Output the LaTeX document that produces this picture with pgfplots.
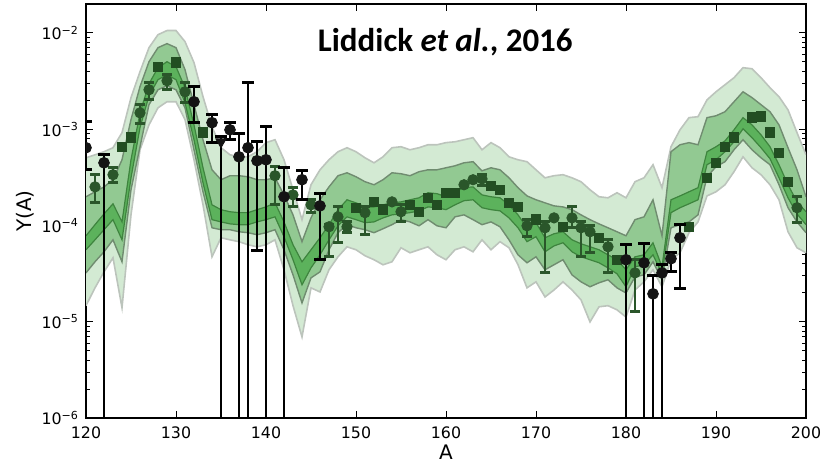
\documentclass[border=0pt]{standalone}
\usepackage{pgfplots}
\pgfplotsset{compat=1.18}
\usepgfplotslibrary{fillbetween}
\usepackage{pgfplotstable}
\usepackage{fontspec}
\setmainfont{DejaVu Sans}
\newfontfamily\titlefont{Carlito}

\definecolor{bandlight}{RGB}{211,234,211}
\definecolor{bandmid}{RGB}{146,201,146}
\definecolor{bandin}{RGB}{92,178,92}
\definecolor{edgelight}{RGB}{188,196,188}
\definecolor{edgemid}{RGB}{112,140,112}
\definecolor{edgein}{RGB}{62,132,62}
\definecolor{ptgreen}{RGB}{42,86,42}
\definecolor{ptsquare}{RGB}{34,78,34}

% model bands: outer (lt/lb), middle (mt/mb), inner (it/ib)
\pgfplotstableread{
A lt mt it ib mb lb
120 5.05e-4 1.99e-4 7.82e-5 5.60e-5 3.22e-5 1.47e-5
121 5.43e-4 2.24e-4 1.02e-4 7.10e-5 4.20e-5 2.25e-5
122 5.84e-4 2.52e-4 1.32e-4 9.04e-5 5.33e-5 3.30e-5
123 6.43e-4 2.99e-4 1.68e-4 1.15e-4 7.10e-5 4.62e-5
124 9.21e-4 4.82e-4 1.09e-4 7.10e-5 4.20e-5 1.40e-5
125 2.13e-3 1.26e-3 4.82e-4 3.13e-4 2.35e-4 1.29e-4
126 3.96e-3 2.77e-3 1.48e-3 1.04e-3 6.58e-4 6.12e-4
127 7.04e-3 5.03e-3 2.97e-3 2.23e-3 1.80e-3 1.11e-3
128 9.60e-3 7.04e-3 4.36e-3 3.27e-3 2.57e-3 1.67e-3
129 1.06e-2 7.75e-3 5.03e-3 3.69e-3 2.83e-3 1.93e-3
130 1.06e-2 7.04e-3 4.46e-3 3.27e-3 2.57e-3 1.93e-3
131 8.13e-3 4.16e-3 2.70e-3 1.89e-3 1.67e-3 1.26e-3
132 4.92e-3 1.80e-3 1.11e-3 7.78e-4 6.12e-4 4.82e-4
133 2.18e-3 7.78e-4 3.98e-4 2.78e-4 2.24e-4 1.64e-4
134 1.06e-3 3.79e-4 1.64e-4 1.15e-4 9.47e-5 4.73e-5
135 6.43e-4 2.99e-4 1.46e-4 1.09e-4 9.04e-5 7.46e-5
136 5.43e-4 3.29e-4 1.39e-4 1.04e-4 9.04e-5 7.10e-5
137 5.17e-4 3.29e-4 1.36e-4 1.02e-4 8.61e-5 6.79e-5
138 5.17e-4 3.21e-4 1.36e-4 1.02e-4 8.42e-5 6.31e-5
139 5.84e-4 2.99e-4 1.46e-4 1.09e-4 8.02e-5 6.01e-5
140 7.26e-4 2.99e-4 1.56e-4 1.15e-4 8.42e-5 6.31e-5
141 7.78e-4 3.13e-4 1.72e-4 1.23e-4 9.04e-5 7.10e-5
142 4.82e-4 2.08e-4 1.09e-4 7.65e-5 5.60e-5 3.47e-5
143 2.35e-4 1.29e-4 6.31e-5 4.41e-5 3.07e-5 1.47e-5
144 1.15e-4 6.79e-5 4.20e-5 2.42e-5 1.57e-5 6.96e-6
145 2.65e-4 1.20e-4 5.60e-5 3.63e-5 2.86e-5 2.25e-5
146 3.79e-4 1.85e-4 7.46e-5 4.96e-5 3.30e-5 2.04e-5
147 4.82e-4 2.52e-4 1.02e-4 7.10e-5 5.60e-5 3.47e-5
148 5.84e-4 3.29e-4 1.46e-4 9.93e-5 8.42e-5 4.73e-5
149 6.43e-4 3.53e-4 1.85e-4 1.23e-4 1.02e-4 6.01e-5
150 5.84e-4 3.21e-4 1.72e-4 1.15e-4 9.47e-5 5.60e-5
151 5.05e-4 2.85e-4 1.56e-4 1.07e-4 9.04e-5 4.85e-5
152 4.48e-4 2.65e-4 1.56e-4 1.09e-4 8.42e-5 4.41e-5
153 5.17e-4 2.99e-4 1.64e-4 1.20e-4 9.25e-5 3.91e-5
154 6.43e-4 3.53e-4 1.72e-4 1.29e-4 1.02e-4 4.20e-5
155 6.58e-4 3.45e-4 1.76e-4 1.32e-4 1.15e-4 5.87e-5
156 6.12e-4 3.29e-4 1.85e-4 1.36e-4 1.09e-4 5.21e-5
157 6.43e-4 3.62e-4 1.94e-4 1.42e-4 9.93e-5 5.60e-5
158 6.90e-4 3.79e-4 2.19e-4 1.56e-4 1.15e-4 6.01e-5
159 6.90e-4 3.79e-4 2.14e-4 1.53e-4 9.93e-5 4.96e-5
160 7.26e-4 3.98e-4 1.99e-4 1.46e-4 9.47e-5 4.41e-5
161 7.41e-4 4.17e-4 2.24e-4 1.64e-4 1.23e-4 5.60e-5
162 7.78e-4 4.48e-4 2.47e-4 1.81e-4 1.29e-4 6.01e-5
163 8.17e-4 4.60e-4 2.52e-4 1.85e-4 1.15e-4 5.33e-5
164 6.12e-4 3.70e-4 2.08e-4 1.53e-4 1.02e-4 7.10e-5
165 7.26e-4 3.98e-4 1.99e-4 1.46e-4 1.09e-4 5.60e-5
166 6.43e-4 3.79e-4 1.94e-4 1.42e-4 9.70e-5 6.79e-5
167 5.17e-4 3.13e-4 1.64e-4 1.20e-4 7.10e-5 5.87e-5
168 4.82e-4 2.47e-4 1.29e-4 9.47e-5 4.96e-5 3.91e-5
169 4.60e-4 2.03e-4 9.47e-5 6.79e-5 4.10e-5 2.25e-5
170 3.79e-4 1.85e-4 1.07e-4 7.65e-5 4.73e-5 2.60e-5
171 3.13e-4 1.72e-4 7.46e-5 5.33e-5 3.47e-5 1.81e-5
172 3.29e-4 1.60e-4 8.21e-5 6.14e-5 3.91e-5 2.14e-5
173 3.37e-4 1.56e-4 8.61e-5 6.62e-5 4.41e-5 2.60e-5
174 3.13e-4 1.46e-4 7.10e-5 5.33e-5 3.07e-5 2.14e-5
175 2.85e-4 1.29e-4 6.46e-5 4.73e-5 2.60e-5 1.69e-5
176 2.35e-4 1.15e-4 6.01e-5 4.41e-5 2.31e-5 9.96e-6
177 1.99e-4 1.04e-4 5.60e-5 4.10e-5 2.54e-5 1.43e-5
178 1.94e-4 9.47e-5 4.96e-5 3.63e-5 2.73e-5 1.47e-5
179 2.19e-4 8.61e-5 4.41e-5 3.15e-5 2.25e-5 1.33e-5
180 1.94e-4 7.82e-5 3.47e-5 2.31e-5 1.99e-5 1.12e-5
181 2.85e-4 1.15e-4 4.73e-5 3.72e-5 2.93e-5 2.14e-5
182 3.13e-4 1.23e-4 4.96e-5 3.91e-5 3.07e-5 2.60e-5
183 4.28e-4 1.85e-4 6.62e-5 4.96e-5 4.20e-5 3.47e-5
184 2.47e-4 7.82e-5 3.72e-5 3.15e-5 2.73e-5 2.31e-5
185 6.58e-4 5.84e-4 1.85e-4 1.36e-4 9.47e-5 4.41e-5
186 9.86e-4 6.90e-4 2.03e-4 1.53e-4 1.02e-4 5.21e-5
187 1.32e-3 7.26e-4 2.24e-4 1.68e-4 1.09e-4 8.42e-5
188 1.35e-3 6.90e-4 2.47e-4 1.85e-4 1.29e-4 1.09e-4
189 2.02e-3 1.32e-3 5.84e-4 4.28e-4 3.21e-4 2.03e-4
190 2.45e-3 1.38e-3 6.58e-4 4.82e-4 4.08e-4 2.24e-4
191 2.90e-3 1.52e-3 7.57e-4 5.84e-4 4.60e-4 2.65e-4
192 3.43e-3 1.93e-3 9.86e-4 7.41e-4 6.12e-4 3.62e-4
193 4.36e-3 2.45e-3 1.32e-3 1.01e-3 7.78e-4 5.17e-4
194 4.25e-3 2.13e-3 1.11e-3 8.17e-4 6.12e-4 3.98e-4
195 3.43e-3 1.80e-3 8.75e-4 6.43e-4 5.05e-4 3.37e-4
196 2.70e-3 1.52e-3 6.58e-4 4.94e-4 4.28e-4 2.65e-4
197 2.18e-3 1.11e-3 4.28e-4 3.13e-4 2.65e-4 1.85e-4
198 1.59e-3 6.43e-4 2.65e-4 1.94e-4 1.53e-4 8.61e-5
199 9.21e-4 3.79e-4 1.76e-4 1.32e-4 1.09e-4 5.87e-5
200 5.43e-4 1.99e-4 1.39e-4 1.02e-4 8.42e-5 5.21e-5
}\bands

% measured abundances (black)
\pgfplotstableread{
A y
120 6.43e-4
122 4.48e-4
132 1.93e-3
134 1.17e-3
136 9.86e-4
137 5.17e-4
138 6.43e-4
139 4.71e-4
140 4.82e-4
142 1.99e-4
144 2.99e-4
146 1.60e-4
180 4.41e-5
182 4.10e-5
183 1.95e-5
184 3.22e-5
185 4.52e-5
186 7.46e-5
}\expdata

% error bars of the measured points: lower and upper end, split by nan
\pgfplotstableread{
A v
120 3.79e-4
120 1.20e-3
120 nan
122 1e-8
122 5.43e-4
122 nan
132 1.17e-3
132 2.77e-3
132 nan
134 7.26e-4
134 1.41e-3
134 nan
135 1e-8
135 8.37e-4
135 nan
136 7.78e-4
136 1.17e-3
136 nan
137 1e-8
137 8.98e-4
137 nan
138 1e-8
138 3.04e-3
138 nan
139 5.46e-5
139 7.41e-4
139 nan
140 1e-8
140 1.06e-3
140 nan
142 1e-8
142 3.98e-4
142 nan
144 1.85e-4
144 3.70e-4
144 nan
146 4.41e-5
146 2.14e-4
146 nan
180 1e-8
180 6.31e-5
180 nan
182 1e-8
182 6.46e-5
182 nan
183 1e-8
183 3.00e-5
183 nan
184 1e-8
184 3.90e-5
184 nan
185 3.30e-5
185 5.21e-5
185 nan
186 2.20e-5
186 1.02e-4
}\expbars

% model points with uncertainties (green circles)
\pgfplotstableread{
A y
121 2.52e-4
123 3.37e-4
126 1.48e-3
127 2.57e-3
129 3.19e-3
131 2.45e-3
141 3.29e-4
143 2.08e-4
145 1.64e-4
147 9.70e-5
148 1.23e-4
149 9.70e-5
151 1.36e-4
154 1.76e-4
155 1.39e-4
162 2.65e-4
163 2.99e-4
164 3.05e-4
169 9.93e-5
171 9.47e-5
172 1.20e-4
174 1.20e-4
175 9.47e-5
176 8.61e-5
178 6.01e-5
181 3.22e-5
199 1.53e-4
}\gcirc

\pgfplotstableread{
A v
121 1.72e-4
121 3.37e-4
121 nan
123 2.78e-4
123 3.98e-4
123 nan
126 1.14e-3
126 1.80e-3
126 nan
127 2.02e-3
127 3.04e-3
127 nan
129 2.57e-3
129 3.69e-3
129 nan
131 1.89e-3
131 3.04e-3
131 nan
141 1.64e-4
141 4.08e-4
141 nan
143 1.56e-4
143 2.47e-4
143 nan
145 1.36e-4
145 1.85e-4
145 nan
147 4.73e-5
147 1.02e-4
147 nan
148 6.62e-5
148 1.56e-4
148 nan
149 8.42e-5
149 1.09e-4
149 nan
151 8.02e-5
151 1.56e-4
151 nan
155 1.09e-4
155 1.64e-4
155 nan
164 2.58e-4
164 3.37e-4
164 nan
169 7.65e-5
169 1.15e-4
169 nan
171 3.22e-5
171 1.09e-4
171 nan
174 9.47e-5
174 1.56e-4
174 nan
175 4.73e-5
175 1.09e-4
175 nan
176 5.21e-5
176 9.93e-5
176 nan
178 3.22e-5
178 7.10e-5
178 nan
181 1.27e-5
181 4.41e-5
181 nan
199 1.07e-4
199 1.99e-4
}\gbars

% model points (green squares)
\pgfplotstableread{
A y
124 6.58e-4
125 8.17e-4
128 4.46e-3
130 4.92e-3
133 9.21e-4
150 1.53e-4
152 1.76e-4
153 1.46e-4
156 1.64e-4
157 1.39e-4
158 1.94e-4
159 1.64e-4
160 2.19e-4
161 2.19e-4
165 2.58e-4
166 2.35e-4
167 1.72e-4
168 1.56e-4
170 1.15e-4
173 9.70e-5
177 7.46e-5
179 4.41e-5
187 9.70e-5
189 3.13e-4
190 4.48e-4
191 6.58e-4
192 8.17e-4
194 1.32e-3
195 1.35e-3
196 9.21e-4
197 5.69e-4
198 2.85e-4
}\gsq

\begin{document}
\begin{tikzpicture}
\begin{axis}[
  name=ax,
  scale only axis,
  width=360pt, height=207pt,
  xmin=120, xmax=200,
  ymode=log, ymin=1e-6, ymax=2e-2,
  xtick={120,130,...,200},
  xticklabels={120,130,140,150,160,170,180,190,200},
  ytick={1e-6,1e-5,1e-4,1e-3,1e-2},
  yticklabels={10\textsuperscript{−6},10\textsuperscript{−5},10\textsuperscript{−4},10\textsuperscript{−3},10\textsuperscript{−2}},
  tick align=inside,
  major tick length=3.5pt, minor tick length=2pt,
  every tick/.style={black, line width=0.5pt},
  axis line style={line width=0.9pt},
  tick label style={font=\fontsize{7.9}{9}\selectfont},
  xticklabel style={yshift=-1pt},
  xlabel={A}, ylabel={Y(A)},
  label style={font=\fontsize{8.2}{9.5}\selectfont},
  every axis x label/.style={at={([yshift=-17pt]axis description cs:0.5,0)}, anchor=center},
  every axis y label/.style={at={([xshift=-30.5pt]axis description cs:0,0.5)}, anchor=center, rotate=90},
  clip marker paths=true,
  unbounded coords=jump,
]
% band boundaries
\addplot[draw=none, name path=lt, forget plot] table[x=A,y=lt]{\bands};
\addplot[draw=none, name path=lb, forget plot] table[x=A,y=lb]{\bands};
\addplot[draw=none, name path=mt, forget plot] table[x=A,y=mt]{\bands};
\addplot[draw=none, name path=mb, forget plot] table[x=A,y=mb]{\bands};
\addplot[draw=none, name path=it, forget plot] table[x=A,y=it]{\bands};
\addplot[draw=none, name path=ib, forget plot] table[x=A,y=ib]{\bands};
\addplot[fill=bandlight, draw=none] fill between[of=lt and lb];
\addplot[fill=bandmid, draw=none] fill between[of=mt and mb];
\addplot[fill=bandin, draw=none] fill between[of=it and ib];
\addplot[edgelight, line width=0.8pt, no marks] table[x=A,y=lt]{\bands};
\addplot[edgelight, line width=0.8pt, no marks] table[x=A,y=lb]{\bands};
\addplot[edgemid, line width=0.7pt, no marks] table[x=A,y=mt]{\bands};
\addplot[edgemid, line width=0.7pt, no marks] table[x=A,y=mb]{\bands};
\addplot[edgein, line width=0.6pt, no marks] table[x=A,y=it]{\bands};
\addplot[edgein, line width=0.6pt, no marks] table[x=A,y=ib]{\bands};
% model points
\addplot[ptgreen, line width=0.8pt, mark=-, mark size=2.6pt, mark options={line width=1.5pt}] table[x=A,y=v]{\gbars};
\addplot[only marks, mark=*, mark size=2.6pt, ptgreen] table[x=A,y=y]{\gcirc};
\addplot[only marks, mark=square*, mark size=2.4pt, ptsquare] table[x=A,y=y]{\gsq};
% measured points
\addplot[black, line width=0.8pt, mark=-, mark size=2.8pt, mark options={line width=1.6pt}] table[x=A,y=v]{\expbars};
\addplot[only marks, mark=*, mark size=2.7pt, black!92] table[x=A,y=y]{\expdata};
\addplot[only marks, mark=triangle*, mark size=3pt, mark options={rotate=180}, black!92] coordinates {(135,7.41e-4)};
\node[font=\titlefont\bfseries\fontsize{16.5}{20}\selectfont] at (rel axis cs:0.499,0.908) {Liddick \textit{et al.}, 2016};
\end{axis}
\pgfresetboundingbox
\path[use as bounding box] ([xshift=-43pt,yshift=-22pt]ax.south west) rectangle ([xshift=13.5pt,yshift=2pt]ax.north east);
\end{tikzpicture}
\end{document}
